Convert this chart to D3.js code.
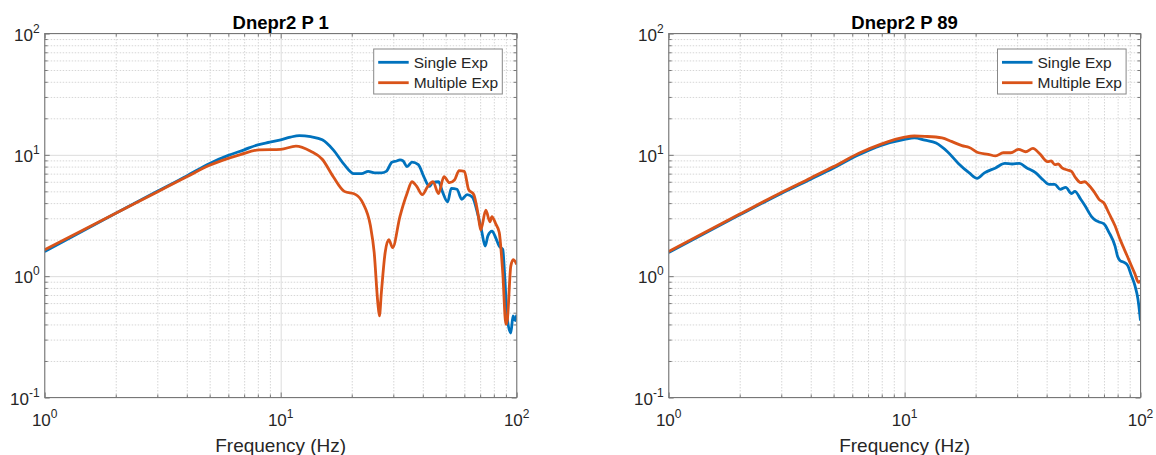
<!DOCTYPE html>
<html>
<head>
<meta charset="utf-8">
<script src="https://cdn.jsdelivr.net/npm/d3@7"></script>
<style>
  body { margin: 0; background: #fff; }
  text { font-family: "Liberation Sans", Arial, Helvetica, sans-serif; fill: #262626; }
</style>
</head>
<body>
<svg id="chart" width="1156" height="455"></svg>
<script>
// ---- data (frequency in Hz, amplitude) ----
var p1SingleHz  = [1, 2, 3, 4, 5, 6, 7, 8, 9, 10, 11, 12, 13.4, 15, 16.7, 18.6, 20.4, 22, 23.5, 25, 26.7, 28, 29.6, 31, 32, 33, 34.3, 36, 38.3, 40.4, 42.7, 44, 46.7, 48.4, 51, 52.8, 55.8, 58.5, 61.6, 64.8, 68.5, 70.9, 73.5, 75.5, 78.6, 81.5, 84.3, 87.3, 88.8, 91.3, 94.4, 96.5, 98.6, 100];
var p1SingleAmp = [1.6, 3.3, 5.0, 6.7, 8.5, 9.9, 11.0, 12.1, 12.7, 13.3, 14.0, 14.4, 14.1, 13.3, 11.0, 8.3, 7.0, 7.0, 7.3, 7.1, 7.1, 7.3, 8.7, 8.9, 9.1, 8.9, 8.0, 8.7, 8.3, 6.6, 5.5, 5.9, 6.0, 5.0, 4.1, 5.3, 5.2, 4.3, 4.7, 4.5, 3.2, 2.4, 1.77, 2.15, 2.35, 2.07, 1.77, 1.66, 1.06, 0.44, 0.34, 0.47, 0.43, 0.48];

var p1MultiHz  = [1, 2, 3, 4, 5, 5.66, 6.8, 8.1, 10, 11.6, 13.4, 15, 16.7, 18.6, 20.8, 22.3, 24, 24.9, 25.8, 26.2, 26.7, 27.7, 28.7, 29.8, 32, 34.3, 36, 37.7, 39.8, 42, 44.2, 46.6, 49.2, 51.9, 54.5, 57, 60, 62.5, 65.8, 68.5, 70.4, 74, 77, 78.5, 81.5, 84.3, 87.3, 90, 91.3, 94.4, 96.7, 100];
var p1MultiAmp = [1.65, 3.3, 4.95, 6.6, 8.2, 9.0, 10.1, 11.0, 11.1, 11.8, 10.7, 9.2, 6.6, 5.0, 4.7, 4.0, 2.6, 1.56, 0.6, 0.47, 0.73, 1.56, 2.0, 1.72, 3.1, 4.8, 6.0, 5.5, 4.7, 5.5, 6.0, 4.8, 6.6, 5.9, 6.2, 7.4, 7.3, 5.2, 4.7, 3.3, 2.4, 3.5, 2.8, 3.1, 2.7, 2.3, 1.06, 0.40, 0.44, 1.21, 1.37, 1.25];

var p89SingleHz  = [1, 2, 3, 4, 5, 6.4, 7.9, 10, 11, 12.2, 13.6, 15.2, 16.9, 18.8, 20.3, 21.8, 24.3, 26.6, 28.6, 30.6, 33, 36, 38.7, 41, 43.3, 45.7, 48.2, 51, 52.7, 55.8, 58.2, 62, 64.3, 66.7, 70, 73.5, 78, 80, 82, 85.2, 88.3, 91.5, 94.8, 97.5, 100];
var p89SingleAmp = [1.57, 3.2, 4.8, 6.3, 7.8, 10.0, 11.9, 13.4, 13.8, 13.2, 12.5, 10.6, 8.5, 7.1, 6.4, 7.1, 7.8, 8.5, 8.4, 8.5, 7.8, 7.1, 6.2, 5.7, 5.7, 5.2, 5.4, 4.8, 5.0, 4.3, 3.8, 3.1, 2.9, 2.8, 2.7, 2.3, 1.77, 1.45, 1.34, 1.30, 1.22, 1.01, 0.83, 0.65, 0.43];

var p89MultiHz  = [1, 2, 3, 4, 5, 6.4, 7.9, 10, 11, 12.2, 14.4, 15.8, 17.5, 18.8, 20.6, 22.6, 24.3, 26.2, 28.2, 30.4, 32.6, 35, 37.4, 40.3, 41.8, 43.3, 44.8, 46.5, 49, 51, 52.7, 55.8, 58, 60, 63.4, 66.7, 70, 73.5, 78, 82, 85.2, 88.3, 91.5, 94.8, 98, 100];
var p89MultiAmp = [1.6, 3.25, 4.9, 6.45, 8.0, 10.3, 12.2, 14.0, 14.3, 14.2, 13.8, 12.9, 11.9, 11.5, 10.4, 10.1, 9.8, 10.4, 10.4, 11.1, 10.6, 11.3, 10.2, 8.8, 8.9, 8.3, 8.4, 7.8, 7.5, 7.3, 6.6, 5.9, 6.0, 5.7, 5.0, 4.3, 4.0, 3.3, 2.6, 2.0, 1.68, 1.43, 1.22, 1.04, 0.89, 0.92];

var titles = ["Dnepr2 P 1", "Dnepr2 P 89"];
var seriesNames = ["Single Exp", "Multiple Exp"];
var seriesColors = ["#0072BD", "#D95319"];
var xMajor = [1, 10, 100];
var yMajor = [0.1, 1, 10, 100];
var xLabels = ["0", "1", "2"];
var yLabels = ["-1", "0", "1", "2"];
var xTitle = "Frequency (Hz)";

var panels = [
  { title: titles[0], left: 44.7, right: 516.7,
    series: [[p1SingleHz, p1SingleAmp], [p1MultiHz, p1MultiAmp]] },
  { title: titles[1], left: 668.7, right: 1140.5,
    series: [[p89SingleHz, p89SingleAmp], [p89MultiHz, p89MultiAmp]] }
];

var plotTop = 33.5, plotBottom = 397.5;
var axisColor = "#777";

function minorsOf(decades) {
  var out = [];
  decades.forEach(function(d) { for (var k = 2; k <= 9; k++) out.push(d * k); });
  return out;
}
var xMinor = minorsOf([1, 10]);
var yMinor = minorsOf([0.1, 1, 10]);

var svg = d3.select("#chart");

function noDomain(s) { s.select(".domain").remove(); }

panels.forEach(function(p, pi) {
  var x = d3.scaleLog().domain([1, 100]).range([p.left, p.right]);
  var y = d3.scaleLog().domain([0.1, 100]).range([plotBottom, plotTop]);
  var w = p.right - p.left, h = plotBottom - plotTop;
  var g = svg.append("g");

  // grid: minor (dotted) then major
  g.append("g").attr("transform", "translate(0," + plotBottom + ")")
    .call(d3.axisBottom(x).tickValues(xMinor).tickSize(-h).tickFormat(""))
    .call(noDomain)
    .selectAll("line").attr("stroke", "#d6d6d6").attr("stroke-dasharray", "1.5,1.5");
  g.append("g").attr("transform", "translate(" + p.left + ",0)")
    .call(d3.axisLeft(y).tickValues(yMinor).tickSize(-w).tickFormat(""))
    .call(noDomain)
    .selectAll("line").attr("stroke", "#d6d6d6").attr("stroke-dasharray", "1.5,1.5");
  g.append("g").attr("transform", "translate(0," + plotBottom + ")")
    .call(d3.axisBottom(x).tickValues(xMajor).tickSize(-h).tickFormat(""))
    .call(noDomain)
    .selectAll("line").attr("stroke", "#dcdcdc");
  g.append("g").attr("transform", "translate(" + p.left + ",0)")
    .call(d3.axisLeft(y).tickValues(yMajor).tickSize(-w).tickFormat(""))
    .call(noDomain)
    .selectAll("line").attr("stroke", "#dcdcdc");

  // inward ticks on all four sides
  var sides = [
    [d3.axisBottom, x, "translate(0," + plotBottom + ")", xMajor, xMinor],
    [d3.axisTop, x, "translate(0," + plotTop + ")", xMajor, xMinor],
    [d3.axisLeft, y, "translate(" + p.left + ",0)", yMajor, yMinor],
    [d3.axisRight, y, "translate(" + p.right + ",0)", yMajor, yMinor]
  ];
  sides.forEach(function(sd) {
    [[sd[3], 5], [sd[4], 3]].forEach(function(pair) {
      g.append("g").attr("transform", sd[2])
        .call(sd[0](sd[1]).tickValues(pair[0]).tickSize(-pair[1]).tickFormat(""))
        .call(noDomain)
        .selectAll("line").attr("stroke", axisColor);
    });
  });

  // lines
  var clipId = "clip" + pi;
  svg.append("clipPath").attr("id", clipId).append("rect")
    .attr("x", p.left).attr("y", plotTop).attr("width", w).attr("height", h);
  var line = d3.line()
    .curve(d3.curveMonotoneX)
    .x(function(d) { return x(d[0]); })
    .y(function(d) { return y(d[1]); });
  p.series.forEach(function(s, si) {
    var pts = s[0].map(function(f, k) { return [f, s[1][k]]; });
    g.append("path").datum(pts)
      .attr("clip-path", "url(#" + clipId + ")")
      .attr("fill", "none")
      .attr("stroke", seriesColors[si])
      .attr("stroke-width", 2.8)
      .attr("stroke-linejoin", "round")
      .attr("d", line);
  });

  // box
  g.append("rect").attr("x", p.left).attr("y", plotTop).attr("width", w).attr("height", h)
    .attr("fill", "none").attr("stroke", axisColor).attr("stroke-width", 1);

  // tick labels 10^n
  xMajor.forEach(function(v, i) {
    var t = g.append("text").attr("x", x(v)).attr("y", plotBottom + 28)
      .attr("text-anchor", "middle").style("font-size", "17px");
    t.append("tspan").text("10");
    t.append("tspan").attr("dy", -8).style("font-size", "12px").text(xLabels[i]);
  });
  yMajor.forEach(function(v, i) {
    var t = g.append("text").attr("x", p.left - 5).attr("y", y(v) + 7)
      .attr("text-anchor", "end").style("font-size", "17px");
    t.append("tspan").text("10");
    t.append("tspan").attr("dy", -8).style("font-size", "12px").text(yLabels[i]);
  });

  // title and x label
  g.append("text").attr("x", (p.left + p.right) / 2).attr("y", 29)
    .attr("text-anchor", "middle").style("font-size", "18.5px").style("font-weight", "bold")
    .style("fill", "#000").text(p.title);
  g.append("text").attr("x", (p.left + p.right) / 2).attr("y", 452)
    .attr("text-anchor", "middle").style("font-size", "19px").text(xTitle);

  // legend
  var lx = p.right - 143, ly = 49;
  var leg = g.append("g");
  leg.append("rect").attr("x", lx).attr("y", ly).attr("width", 128.6).attr("height", 45)
    .attr("fill", "#fff").attr("stroke", "#888").attr("stroke-width", 1);
  seriesNames.forEach(function(name, si) {
    var cy = ly + 13.3 + si * 20.4;
    leg.append("line").attr("x1", lx + 4.5).attr("x2", lx + 35).attr("y1", cy).attr("y2", cy)
      .attr("stroke", seriesColors[si]).attr("stroke-width", 2.8);
    leg.append("text").attr("x", lx + 40).attr("y", cy + 5.5)
      .style("font-size", "15.5px").text(name);
  });
});
</script>
</body>
</html>
